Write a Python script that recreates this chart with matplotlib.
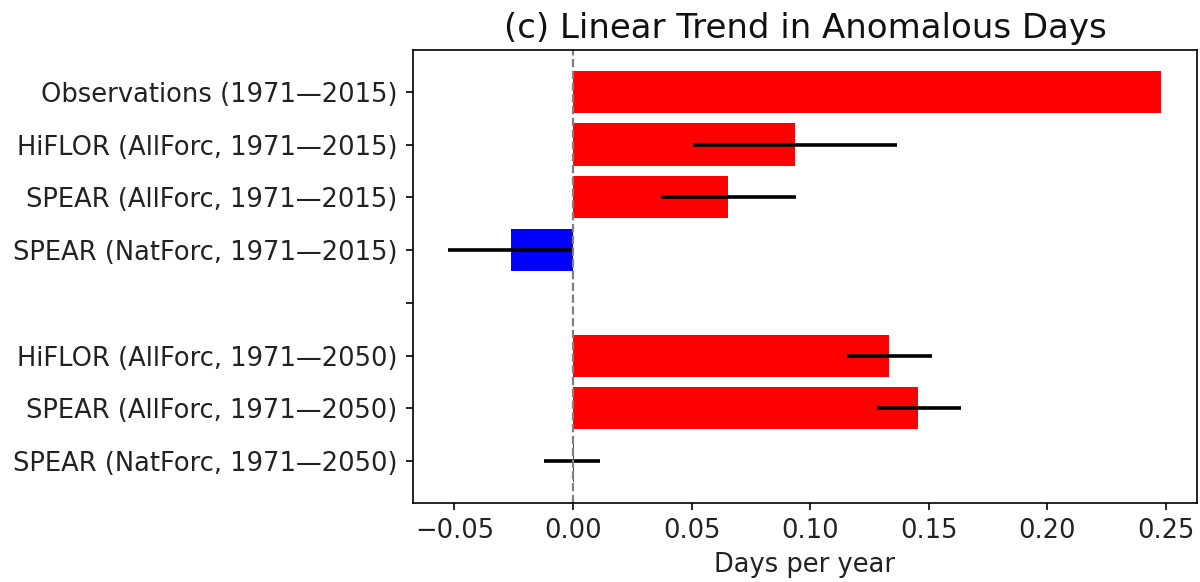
import matplotlib
matplotlib.use("Agg")
import matplotlib.pyplot as plt
import numpy as np

labels = ["Observations (1971\u20142015)", "HiFLOR (AllForc, 1971\u20142015)",
          "SPEAR (AllForc, 1971\u20142015)", "SPEAR (NatForc, 1971\u20142015)", "",
          "HiFLOR (AllForc, 1971\u20142050)", "SPEAR (AllForc, 1971\u20142050)",
          "SPEAR (NatForc, 1971\u20142050)"]
values = [0.248, 0.0935, 0.0655, -0.026, 0.0, 0.133, 0.1455, 0.0005]
err_lo = [np.nan, 0.0505, 0.0372, -0.0525, np.nan, 0.1155, 0.128, -0.0122]
err_hi = [np.nan, 0.1365, 0.0942, 0.0, np.nan, 0.1512, 0.1637, 0.0113]
colors = ["red", "red", "red", "blue", "white", "red", "red", "red"]

fig = plt.figure(figsize=(12, 5.82), dpi=100)
ax = fig.add_axes([0.344, 0.136, 0.6535, 0.778])
y = np.arange(len(labels))
ax.barh(y, values, height=0.8, color=colors)
for yi, lo, hi in zip(y, err_lo, err_hi):
    if not np.isnan(lo):
        ax.plot([lo, hi], [yi, yi], color="black", lw=2.6, solid_capstyle="butt")
ax.axvline(0, color="grey", ls="--", lw=1.6)
ax.set_yticks(y)
ax.set_yticklabels(labels, fontsize=18.5, color="#222222")
ax.invert_yaxis()
ax.set_xticks([-0.05, 0.0, 0.05, 0.10, 0.15, 0.20, 0.25])
ax.set_xticklabels(["\u22120.05", "0.00", "0.05", "0.10", "0.15", "0.20", "0.25"], fontsize=18.5, color="#222222")
ax.tick_params(length=5, width=1.2, pad=6)
for s in ax.spines.values():
    s.set_linewidth(1.2)
ax.set_xlabel("Days per year", fontsize=18.5, color="#222222", labelpad=6)
ax.set_title("(c) Linear Trend in Anomalous Days", fontsize=24.5, color="#111111", pad=9)
fig.savefig("out.png", dpi=100)
